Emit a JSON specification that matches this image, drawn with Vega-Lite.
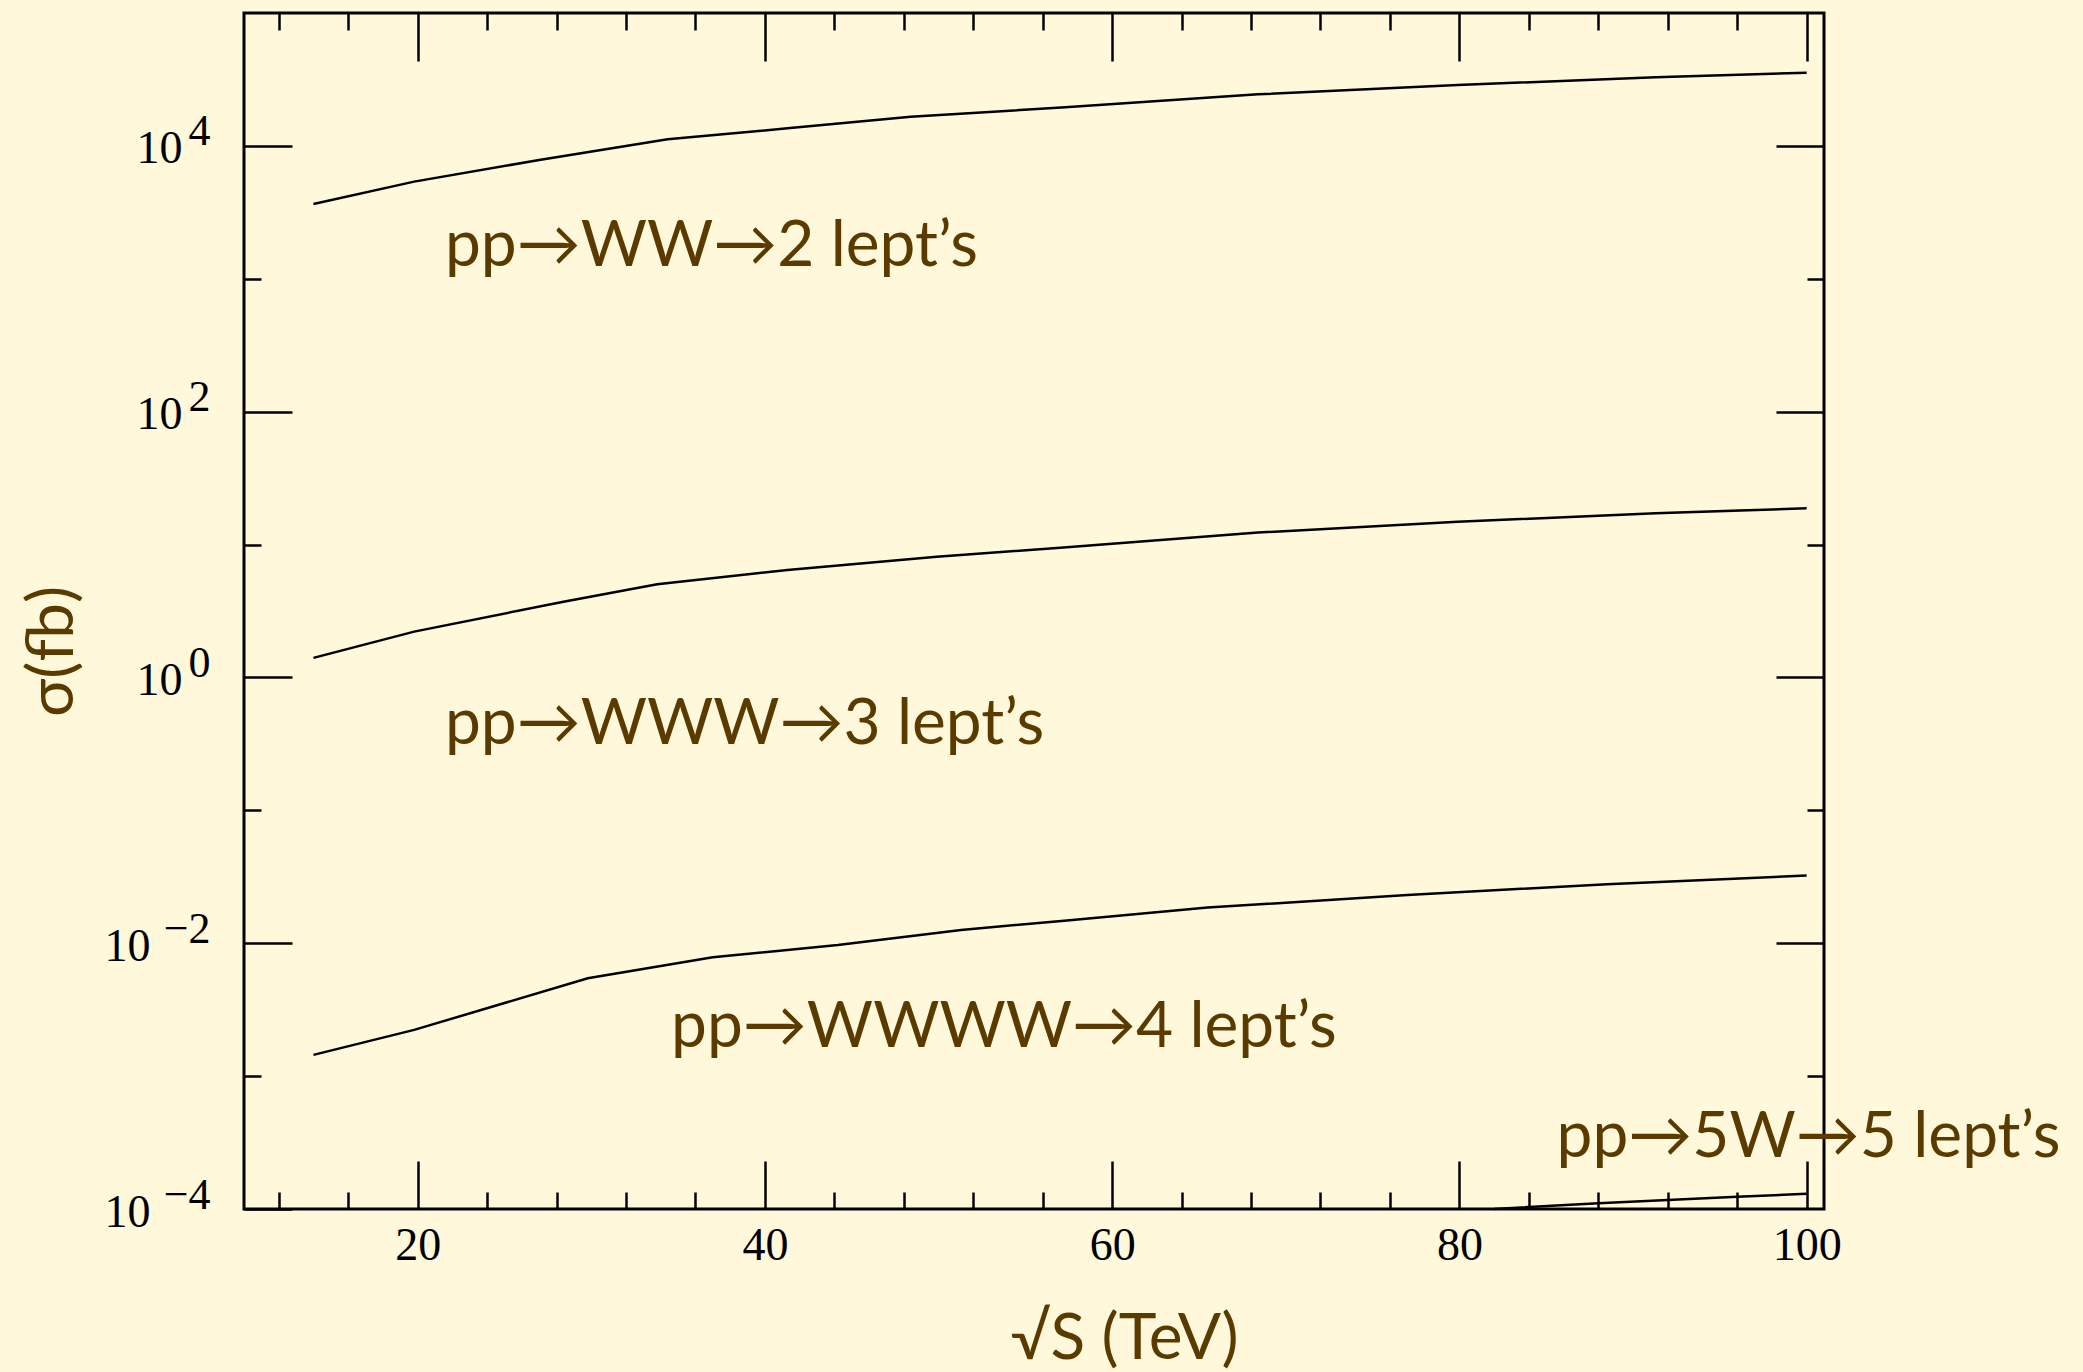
{
  "$schema": "https://vega.github.io/schema/vega-lite/v6.json",
  "width": 1580,
  "height": 1196,
  "autosize": {"type": "none"},
  "padding": {"left": 244, "top": 13, "right": 259, "bottom": 163},
  "background": "#FFF8DA",
  "config": {
    "view": {"stroke": "#000000", "strokeWidth": 3},
    "axis": {"domain": false, "grid": false, "tickColor": "#000000", "tickWidth": 2.5, "labelColor": "#000000", "labelFont": "Liberation Serif", "labelFontSize": 46, "titleColor": "#5B3A00", "titleFont": "Lato", "titleFontSize": 64, "titleFontWeight": "normal"}
  },
  "datasets": {
    "curves": [
      {"s": 14.0, "sigma": 3656, "process": "WW"},
      {"s": 19.8, "sigma": 5383, "process": "WW"},
      {"s": 27.0, "sigma": 7834, "process": "WW"},
      {"s": 34.4, "sigma": 11220, "process": "WW"},
      {"s": 41.3, "sigma": 13550, "process": "WW"},
      {"s": 48.4, "sigma": 16600, "process": "WW"},
      {"s": 57.3, "sigma": 19500, "process": "WW"},
      {"s": 68.4, "sigma": 24430, "process": "WW"},
      {"s": 79.9, "sigma": 28710, "process": "WW"},
      {"s": 91.3, "sigma": 32810, "process": "WW"},
      {"s": 100.0, "sigma": 35560, "process": "WW"},
      {"s": 14.0, "sigma": 1.403, "process": "WWW"},
      {"s": 19.8, "sigma": 2.213, "process": "WWW"},
      {"s": 28.4, "sigma": 3.715, "process": "WWW"},
      {"s": 33.8, "sigma": 5.023, "process": "WWW"},
      {"s": 41.3, "sigma": 6.442, "process": "WWW"},
      {"s": 49.9, "sigma": 8.11, "process": "WWW"},
      {"s": 57.2, "sigma": 9.51, "process": "WWW"},
      {"s": 68.4, "sigma": 12.3, "process": "WWW"},
      {"s": 79.9, "sigma": 14.86, "process": "WWW"},
      {"s": 91.3, "sigma": 17.18, "process": "WWW"},
      {"s": 100.0, "sigma": 18.75, "process": "WWW"},
      {"s": 14.0, "sigma": 0.001445, "process": "WWWW"},
      {"s": 19.8, "sigma": 0.002228, "process": "WWWW"},
      {"s": 29.8, "sigma": 0.005445, "process": "WWWW"},
      {"s": 37.0, "sigma": 0.007834, "process": "WWWW"},
      {"s": 44.2, "sigma": 0.009705, "process": "WWWW"},
      {"s": 51.3, "sigma": 0.01259, "process": "WWWW"},
      {"s": 57.4, "sigma": 0.01483, "process": "WWWW"},
      {"s": 65.5, "sigma": 0.01854, "process": "WWWW"},
      {"s": 77.0, "sigma": 0.02307, "process": "WWWW"},
      {"s": 88.5, "sigma": 0.0278, "process": "WWWW"},
      {"s": 100.0, "sigma": 0.03228, "process": "WWWW"},
      {"s": 82.0, "sigma": 0.0001, "process": "5W"},
      {"s": 88.0, "sigma": 0.0001107, "process": "5W"},
      {"s": 96.0, "sigma": 0.0001239, "process": "5W"},
      {"s": 100.0, "sigma": 0.00013, "process": "5W"}
    ],
    "labels": [
      {"s": 21.57, "sigma": 1247, "text": "pp→WW→2 lept’s"},
      {"s": 21.57, "sigma": 0.316, "text": "pp→WWW→3 lept’s"},
      {"s": 34.6, "sigma": 0.00166, "text": "pp→WWWW→4 lept’s"},
      {"s": 85.6, "sigma": 0.000245, "text": "pp→5W→5 lept’s"}
    ]
  },
  "resolve": {"axis": {"x": "independent", "y": "independent"}},
  "layer": [
    {
      "data": {"name": "curves"},
      "mark": {"type": "line", "color": "#000000", "strokeWidth": 2.5},
      "encoding": {
        "x": {
          "field": "s", "type": "quantitative",
          "scale": {"domain": [10, 101], "zero": false, "nice": false},
          "axis": {
            "orient": "bottom",
            "title": "√S (TeV)",
            "titleX": 880, "titleY": 149, "titleAlign": "center", "titleBaseline": "alphabetic",
            "values": [12, 16, 20, 24, 28, 32, 36, 40, 44, 48, 52, 56, 60, 64, 68, 72, 76, 80, 84, 88, 92, 96, 100],
            "labelExpr": "datum.value % 20 === 0 ? datum.label : ''",
            "tickSize": {"condition": {"test": "datum.value % 20 === 0", "value": -48}, "value": -17},
            "labelPadding": 62,
            "labelFlush": false,
            "labelOverlap": false
          }
        },
        "y": {
          "field": "sigma", "type": "quantitative",
          "scale": {"type": "log", "domain": [0.0001, 100000], "nice": false},
          "axis": {
            "orient": "left",
            "title": "σ(fb)",
            "titleX": -191, "titleY": 638, "titleAngle": -90, "titleAlign": "center", "titleBaseline": "middle",
            "values": [0.0001, 0.001, 0.01, 0.1, 1, 10, 100, 1000, 10000],
            "labelExpr": "datum.value > 0.5 && abs(round(log(datum.value)/LN10)) % 2 == 0 ? '10' : ''",
            "tickSize": {"condition": {"test": "abs(round(log(datum.value)/LN10)) % 2 == 0", "value": -48}, "value": -17},
            "labelPadding": 110,
            "labelOffset": 3,
            "labelFlush": false,
            "labelOverlap": false
          }
        },
        "detail": {"field": "process", "type": "nominal"}
      }
    },
    {
      "data": {"name": "curves"},
      "mark": {"type": "line", "opacity": 0},
      "encoding": {
        "x": {
          "field": "s", "type": "quantitative",
          "axis": {
            "orient": "top", "title": null, "labels": false,
            "values": [12, 16, 20, 24, 28, 32, 36, 40, 44, 48, 52, 56, 60, 64, 68, 72, 76, 80, 84, 88, 92, 96, 100],
            "tickSize": {"condition": {"test": "datum.value % 20 === 0", "value": -48}, "value": -17}
          }
        },
        "y": {
          "field": "sigma", "type": "quantitative",
          "axis": {
            "orient": "right", "title": null, "labels": false,
            "values": [0.001, 0.01, 0.1, 1, 10, 100, 1000, 10000],
            "tickSize": {"condition": {"test": "abs(round(log(datum.value)/LN10)) % 2 == 0", "value": -48}, "value": -17}
          }
        },
        "detail": {"field": "process", "type": "nominal"}
      }
    },
    {
      "data": {"name": "curves"},
      "mark": {"type": "line", "opacity": 0},
      "encoding": {
        "x": {"field": "s", "type": "quantitative", "axis": null},
        "y": {
          "field": "sigma", "type": "quantitative",
          "axis": {
            "orient": "left", "title": null,
            "values": [0.0001, 0.001, 0.01, 0.1, 1, 10, 100, 1000, 10000],
            "labelExpr": "datum.value < 0.5 && abs(round(log(datum.value)/LN10)) % 2 == 0 ? '10' : ''",
            "tickSize": {"condition": {"test": "abs(round(log(datum.value)/LN10)) % 2 == 0", "value": -48}, "value": -17},
            "tickOpacity": 0,
            "labelPadding": 142,
            "labelOffset": 3,
            "labelFlush": false,
            "labelOverlap": false
          }
        },
        "detail": {"field": "process", "type": "nominal"}
      }
    },
    {
      "data": {"name": "curves"},
      "mark": {"type": "line", "opacity": 0},
      "encoding": {
        "x": {"field": "s", "type": "quantitative", "axis": null},
        "y": {
          "field": "sigma", "type": "quantitative",
          "axis": {
            "orient": "left", "title": null,
            "values": [0.0001, 0.001, 0.01, 0.1, 1, 10, 100, 1000, 10000],
            "labelExpr": "round(log(datum.value)/LN10) == 4 ? '4' : round(log(datum.value)/LN10) == 2 ? '2' : round(log(datum.value)/LN10) == 0 ? '0' : round(log(datum.value)/LN10) == -2 ? '−2' : round(log(datum.value)/LN10) == -4 ? '−4' : ''",
            "tickSize": {"condition": {"test": "abs(round(log(datum.value)/LN10)) % 2 == 0", "value": -48}, "value": -17},
            "tickOpacity": 0,
            "labelFontSize": 44,
            "labelPadding": 82,
            "labelOffset": -14,
            "labelFlush": false,
            "labelOverlap": false
          }
        },
        "detail": {"field": "process", "type": "nominal"}
      }
    },
    {
      "data": {"name": "labels"},
      "mark": {"type": "text", "font": "Lato", "fontSize": 64, "color": "#5B3A00", "align": "left", "baseline": "alphabetic"},
      "encoding": {
        "x": {"field": "s", "type": "quantitative", "axis": null},
        "y": {"field": "sigma", "type": "quantitative", "axis": null},
        "text": {"field": "text"}
      }
    }
  ]
}
